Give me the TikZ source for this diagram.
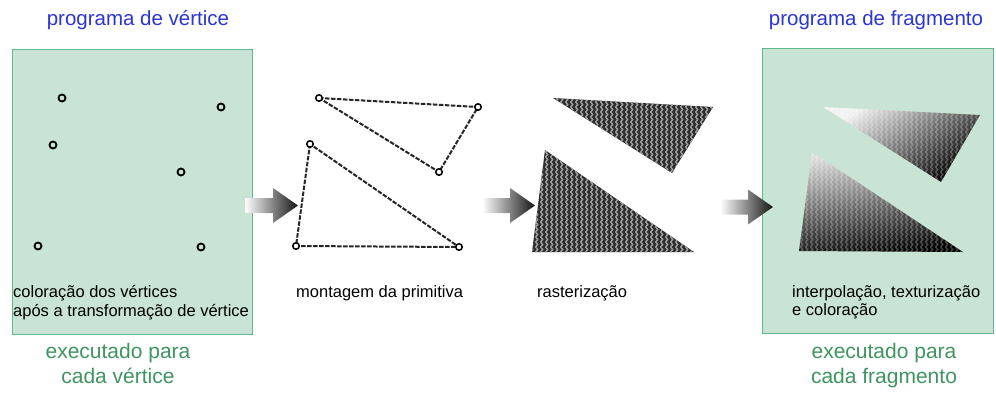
\documentclass[tikz,border=0pt]{standalone}
\usepackage{fontspec}
\setmainfont{Liberation Sans}
\usetikzlibrary{patterns}
\definecolor{boxfill}{HTML}{C9E4D5}
\definecolor{boxline}{HTML}{5FB88C}
\definecolor{titleblue}{HTML}{2B36D6}
\definecolor{execgreen}{HTML}{3F9462}
\definecolor{rastgray}{HTML}{2E2E2E}
\pgfdeclarepatternformonly{herring}{\pgfqpoint{-1pt}{-1pt}}{\pgfqpoint{6pt}{6pt}}{\pgfqpoint{5pt}{5pt}}{%
  \pgfsetlinewidth{1.3pt}%
  \pgfpathmoveto{\pgfqpoint{0.5pt}{0pt}}\pgfpathlineto{\pgfqpoint{2.8pt}{2.5pt}}\pgfpathlineto{\pgfqpoint{0.5pt}{5pt}}%
  \pgfusepath{stroke}}
\begin{document}
\begin{tikzpicture}[x=1pt,y=-1pt,
  stagebox/.style={draw=boxline, fill=boxfill, line width=1pt, inner sep=0pt, anchor=north west},
  titletext/.style={text=titleblue, font=\fontsize{20.5}{24}\selectfont, anchor=base},
  exectext/.style={text=execgreen, font=\fontsize{21}{25}\selectfont, anchor=base},
  smalltext/.style={text=black, font=\fontsize{16.5}{19}\selectfont, anchor=base west, inner sep=0pt},
  vdot/.style={circle, draw=black, line width=1.8pt, fill=boxfill, minimum size=7pt, inner sep=0pt},
  pdot/.style={circle, draw=black, line width=1.5pt, fill=white, minimum size=6.5pt, inner sep=0pt},
  edge/.style={draw=black!85, line width=2pt, dash pattern=on 4.5pt off 1.5pt},
  blockarrow/.pic={\shade[left color=white, right color=black!92]
     (0,-7.5) -- (28,-7.5) -- (28,-17.5) -- (53,0) -- (28,17.5) -- (28,7.5) -- (0,7.5) -- cycle;},
  rast/.style={fill=rastgray, postaction={pattern=herring, pattern color=gray!75}},
]
\useasboundingbox (0,0) rectangle (996,392);
\fill[white] (0,0) rectangle (996,392);

% titles
\node[titletext] (t1) at (138,25) {programa de vértice};
\node[titletext] (t2) at (876,25) {programa de fragmento};

% boxes
\node[stagebox, minimum width=240pt, minimum height=285pt] (vbox) at (12,49) {};
\node[stagebox, minimum width=231pt, minimum height=285pt] (fbox) at (762,48) {};

% vertices
\node[vdot] (v1) at (62,98) {};
\node[vdot] (v2) at (221,107) {};
\node[vdot] (v3) at (53,145) {};
\node[vdot] (v4) at (181,172) {};
\node[vdot] (v5) at (38,246) {};
\node[vdot] (v6) at (201,247) {};

\node[smalltext] (l1a) at (13,297) {coloração dos vértices};
\node[smalltext] (l1b) at (13,316) {após a transformação de vértice};

\node[exectext] (e1a) at (118,358) {executado para};
\node[exectext] (e1b) at (118,383) {cada vértice};

% arrows
\pic at (245,205.5) {blockarrow};
\pic at (482,205.5) {blockarrow};
\pic at (720,207) {blockarrow};

% primitive assembly
\coordinate (p1) at (319,98);
\coordinate (p2) at (478,107);
\coordinate (p3) at (439,172);
\coordinate (q1) at (310,144);
\coordinate (q2) at (296,246);
\coordinate (q3) at (459,247);
\draw[edge] (p1) -- (p2) -- (p3) -- cycle;
\draw[edge] (q1) -- (q2) -- (q3) -- cycle;
\foreach \c in {p1,p2,p3,q1,q2,q3} \node[pdot] at (\c) {};
\node[smalltext] (l2) at (296,297) {montagem da primitiva};

% rasterization
\path[rast] (553,98) -- (713,107) -- (672,173) -- cycle;
\path[rast] (545,150) -- (532,252) -- (694,252) -- cycle;
\node[smalltext] (l3) at (537,297) {rasterização};

% fragments
\shade[top color=gray!10, bottom color=black, shading angle=35,
  postaction={pattern=herring, pattern color=white, opacity=0.25}]
  (823,107) -- (980,115) -- (941,182) -- cycle;
\shade[top color=gray!25, middle color=gray!80!black, bottom color=black, shading angle=8,
  postaction={pattern=herring, pattern color=white, opacity=0.25}]
  (812,152) -- (799,251) -- (963,252) -- cycle;
\node[smalltext] (l4a) at (792,297) {interpolação, texturização};
\node[smalltext] (l4b) at (792,315) {e coloração};

\node[exectext] (e2a) at (884,358) {executado para};
\node[exectext] (e2b) at (884,383) {cada fragmento};
\end{tikzpicture}
\end{document}
